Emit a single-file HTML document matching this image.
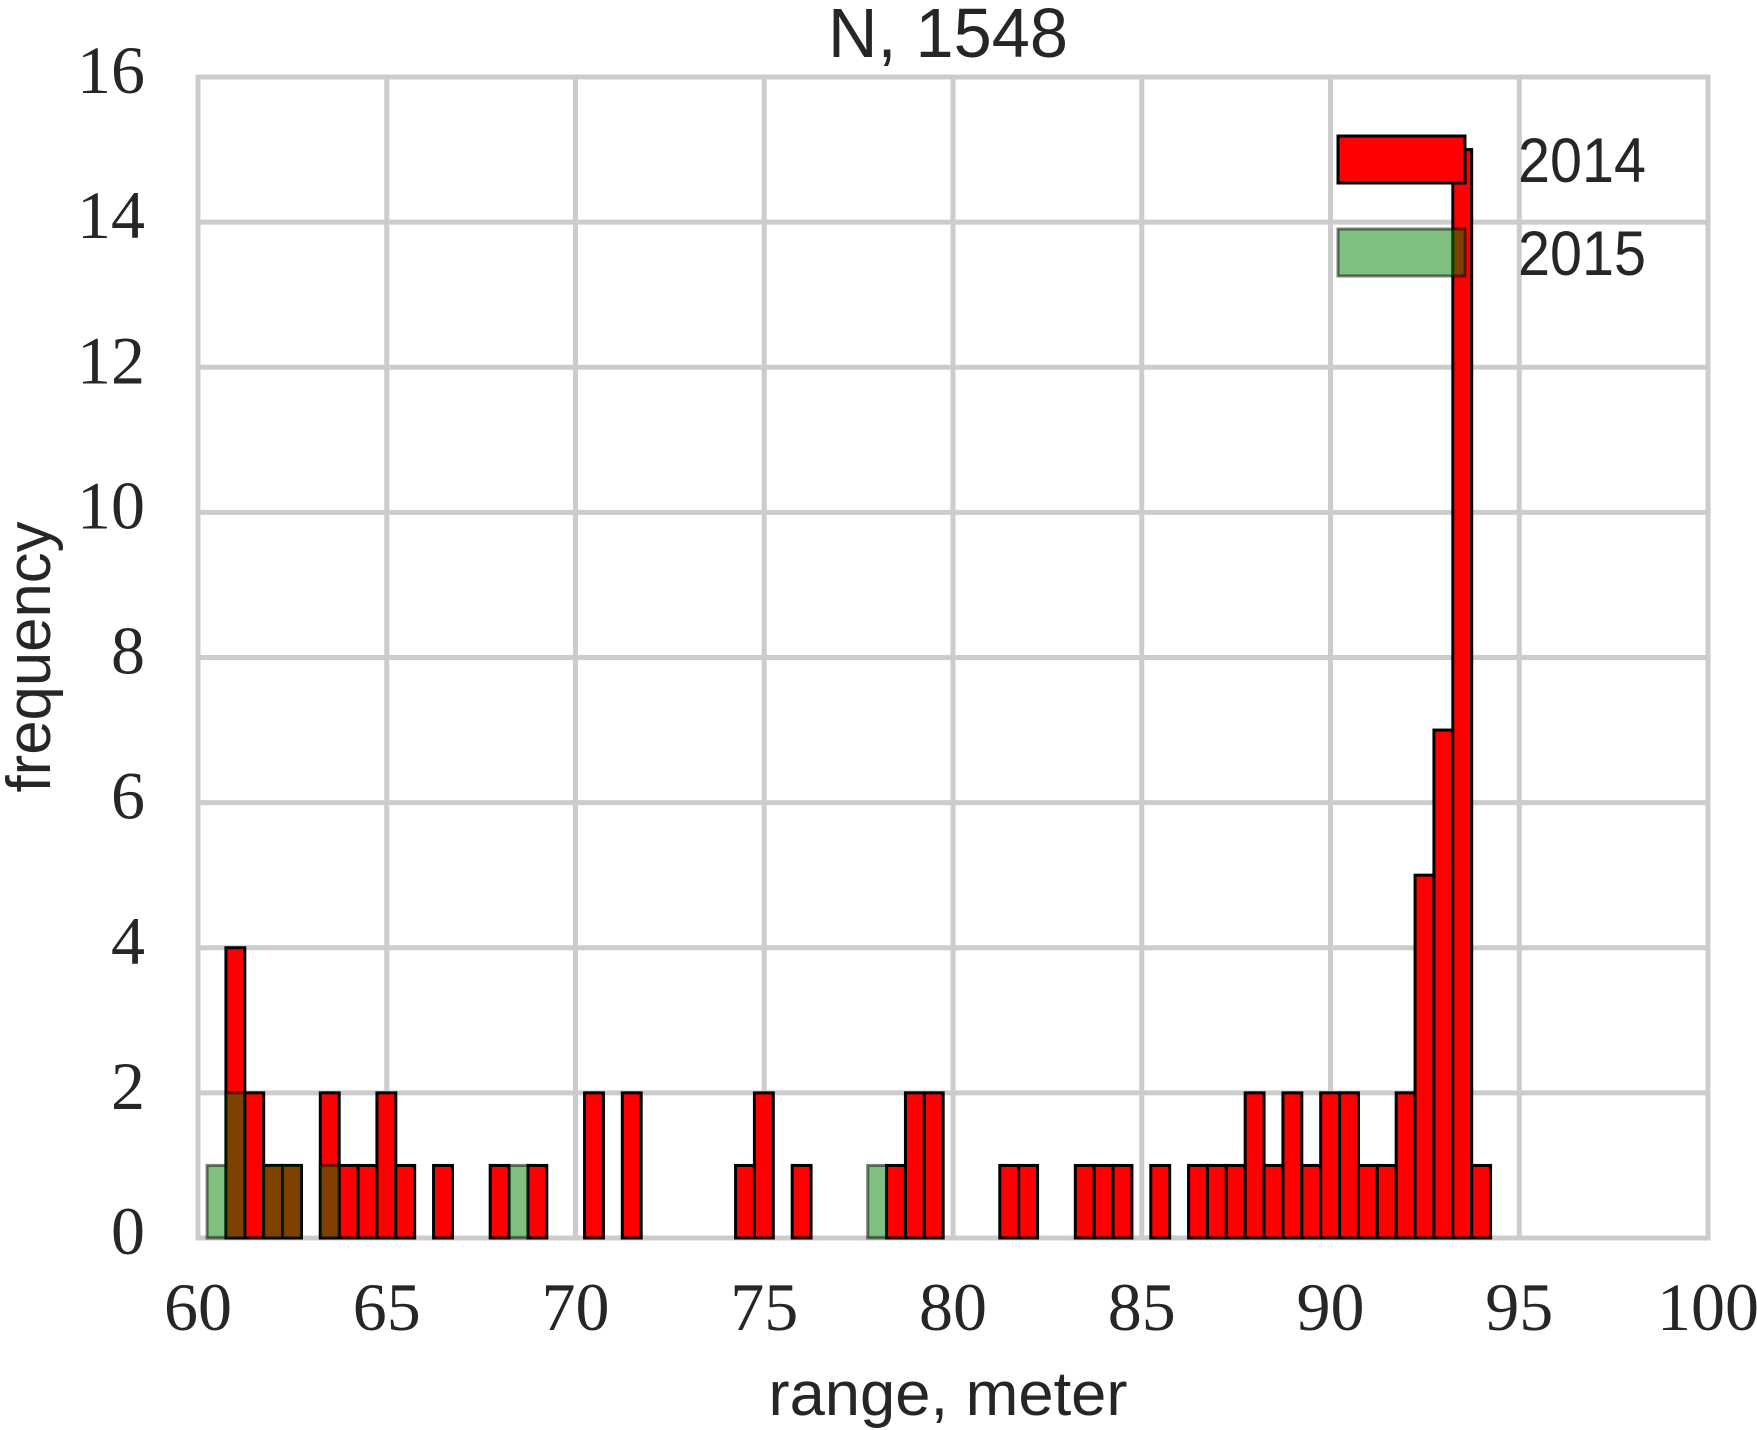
<!DOCTYPE html>
<html><head><meta charset="utf-8"><style>html,body{margin:0;padding:0;background:#fff}svg{display:block}</style></head>
<body>
<svg id="chart" width="1757" height="1430" viewBox="0 0 1757 1430" xmlns="http://www.w3.org/2000/svg">
<g id="grid"></g>
<g id="bars14"></g>
<g id="bars15"></g>
<g id="ticks"></g>
<text x="948" y="57" text-anchor="middle" font-family="Liberation Sans, sans-serif" font-size="70" fill="#262626" textLength="240" lengthAdjust="spacingAndGlyphs">N, 1548</text>
<text x="948" y="1415" text-anchor="middle" font-family="Liberation Sans, sans-serif" font-size="62" fill="#262626" textLength="359" lengthAdjust="spacingAndGlyphs">range, meter</text>
<text transform="translate(50,657) rotate(-90)" text-anchor="middle" font-family="Liberation Sans, sans-serif" font-size="62" fill="#262626" textLength="271" lengthAdjust="spacingAndGlyphs">frequency</text>
<g>
<rect x="1338" y="136" width="127" height="47" fill="#ff0000" stroke="#000" stroke-width="3"/>
<text x="1518" y="182" font-family="Liberation Sans, sans-serif" font-size="63" fill="#262626" textLength="128" lengthAdjust="spacingAndGlyphs">2014</text>
<rect x="1338" y="229" width="127" height="47" fill="rgba(0,128,0,0.5)" stroke="rgba(0,0,0,0.5)" stroke-width="3"/>
<text x="1518" y="275" font-family="Liberation Sans, sans-serif" font-size="63" fill="#262626" textLength="128" lengthAdjust="spacingAndGlyphs">2015</text>
</g>
</svg>
<script>
const binStart = 60.24;
const binWidth = 0.5;
const counts2014 = [0,4,2,1,1,0,2,1,1,2,1,0,1,0,0,1,0,1,0,0,2,0,2,0,0,0,0,0,1,2,0,1,0,0,0,0,1,2,2,0,0,0,1,1,0,0,1,1,1,0,1,0,1,1,1,2,1,2,1,2,2,1,1,2,5,7,15,1];
const counts2015 = [1,2,0,1,1,0,1,0,0,0,0,0,0,0,0,0,1,0,0,0,0,0,0,0,0,0,0,0,0,0,0,0,0,0,0,1,0,0,0,0,0,0,0,0,0,0,0,0,0,0,0,0,0,0,0,0,0,0,0,0,0,0,0,0,0,0,0,0];
const xTicks = [60,65,70,75,80,85,90,95,100];
const yTicks = [0,2,4,6,8,10,12,14,16];

const NS = "http://www.w3.org/2000/svg";
const X0=198, X1=1708, Y0=1238, Y1=77;
const xs = v => X0 + (v-60)/(100-60)*(X1-X0);
const ys = v => Y0 - v/16*(Y0-Y1);
function mk(tag, attrs, parent){const e=document.createElementNS(NS,tag);for(const k in attrs)e.setAttribute(k,attrs[k]);parent.appendChild(e);return e;}

const grid=document.getElementById('grid');
xTicks.forEach(t=>{
  const l=mk('line',{x1:xs(t),x2:xs(t),y1:Y1,y2:Y0,stroke:'#cccccc','stroke-width':5},grid);
  
  
});
yTicks.forEach(t=>{
  const l=mk('line',{x1:X0,x2:X1,y1:ys(t),y2:ys(t),stroke:'#cccccc','stroke-width':5},grid);
  
  
});
const frame=mk('rect',{x:X0,y:Y1,width:X1-X0,height:Y0-Y1,fill:'none',stroke:'#cccccc','stroke-width':5},grid);



function drawBars(counts, g, fill, stroke, name){
  counts.forEach((c,i)=>{
    if(!c) return;
    const a=binStart+i*binWidth;
    const r=mk('rect',{x:xs(a),y:ys(c),width:xs(a+binWidth)-xs(a),height:ys(0)-ys(c),fill:fill,stroke:stroke,'stroke-width':3},g);
    
    
  });
}
drawBars(counts2014, document.getElementById('bars14'), '#ff0000', '#000', 'bar-2014');
drawBars(counts2015, document.getElementById('bars15'), 'rgba(0,128,0,0.5)', 'rgba(0,0,0,0.5)', 'bar-2015');

const tk=document.getElementById('ticks');
xTicks.forEach(t=>{
  const e=mk('text',{x:xs(t),y:1330,'text-anchor':'middle','font-family':'Liberation Serif, serif','font-size':68,fill:'#262626'},tk);
  e.textContent=t;
  
  
});
yTicks.forEach(t=>{
  const e=mk('text',{x:145,y:ys(t)+16,'text-anchor':'end','font-family':'Liberation Serif, serif','font-size':68,fill:'#262626'},tk);
  e.textContent=t;
  
  
});
</script>
</body></html>
